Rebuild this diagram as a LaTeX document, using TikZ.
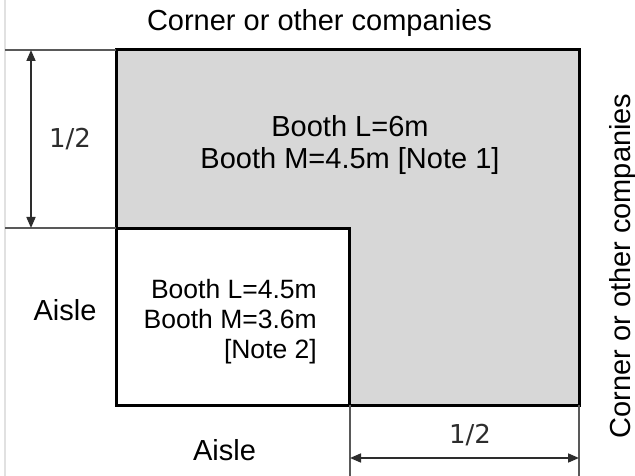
\documentclass[tikz,border=0pt]{standalone}
\usepackage{fontspec}
\setmainfont{Liberation Sans}
\newfontfamily\dimfont{DejaVu Sans}
\usetikzlibrary{arrows.meta}
\definecolor{boothgray}{RGB}{215,215,215}
\definecolor{dimgray}{RGB}{45,45,45}
\definecolor{edgegray}{RGB}{225,225,225}
\begin{document}
\begin{tikzpicture}[x=1pt,y=-1pt,
  wall/.style={line width=3pt,black,line join=miter},
  dimline/.style={line width=1.7pt,dimgray},
  extline/.style={line width=1.4pt,black!65},
  dimarrow/.style={dimline,{Triangle[length=11pt,width=9pt]}-{Triangle[length=11pt,width=9pt]}},
  bigtext/.style={font=\fontsize{29}{30}\selectfont,inner sep=0pt},
  smalltext/.style={font=\fontsize{26.5}{30}\selectfont,inner sep=0pt,anchor=base east},
  dimtext/.style={font=\dimfont\fontsize{26}{28}\selectfont,inner sep=0pt,anchor=base,text=dimgray}]
\useasboundingbox (0,0) rectangle (635,476);
\fill[white] (0,0) rectangle (635,476);
% page edge
\draw[edgegray,line width=1.2pt] (5,0) -- (5,476);
% booth areas
\fill[boothgray] (116,50) rectangle (579,405);
\fill[white] (116,228) rectangle (349,405);
\draw[wall] (116,50) rectangle (579,405);
\draw[wall] (116,228) rectangle (349,405);
% coordinates for dimensions
\coordinate (e1a) at (5,50);  \coordinate (e1b) at (116,50);
\coordinate (e2a) at (5,228); \coordinate (e2b) at (116,228);
\coordinate (e3a) at (350,405); \coordinate (e3b) at (350,476);
\coordinate (e4a) at (579,405); \coordinate (e4b) at (579,476);
\coordinate (v1) at (31,50); \coordinate (v2) at (31,228);
\coordinate (h1) at (350,458); \coordinate (h2) at (579,458);
\draw[extline] (e1a) -- (e1b);
\draw[extline] (e2a) -- (e2b);
\draw[extline] (e3a) -- (e3b);
\draw[extline] (e4a) -- (e4b);
\draw[dimarrow] (v1) -- (v2);
\draw[dimarrow] (h1) -- (h2);
\node[dimtext] (halfv) at (70,148) {1/2};
\node[dimtext] (halfh) at (470,443) {1/2};
% labels
\node[bigtext,anchor=base] (top) at (319.5,31) {Corner or other companies};
\node[bigtext,anchor=base,rotate=90] (right) at (630,266) {Corner or other companies};
\node[bigtext,anchor=base] (aislel) at (65,320) {Aisle};
\node[bigtext,anchor=base] (aisleb) at (224.5,460) {Aisle};
\node[bigtext,anchor=base] (bigA) at (350,137) {Booth L=6m};
\node[bigtext,anchor=base] (bigB) at (350,169) {Booth M=4.5m [Note 1]};
\node[smalltext] (smA) at (317,298) {Booth L=4.5m};
\node[smalltext] (smB) at (317,328) {Booth M=3.6m};
\node[smalltext] (smC) at (317,358) {[Note 2]};
\end{tikzpicture}
\end{document}
